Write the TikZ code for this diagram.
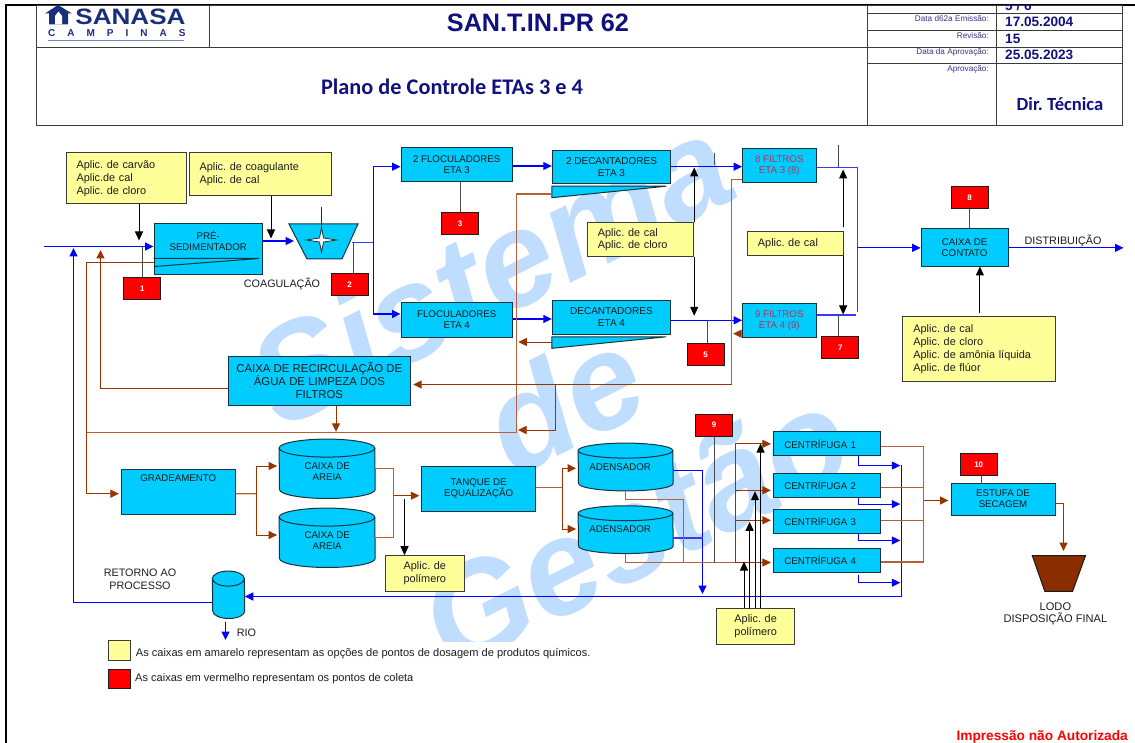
\documentclass[tikz,border=0pt]{standalone}
\usepackage{fontspec}
\setmainfont{Liberation Sans}
\newfontfamily\headfont{Carlito}
\usetikzlibrary{arrows.meta, backgrounds}
\definecolor{PlantInk}{HTML}{1C1C1C}
\definecolor{HeadInk}{HTML}{10107F}
\definecolor{LabelInk}{HTML}{33338C}
\definecolor{LogoInk}{HTML}{1A2F7A}
\definecolor{LogoRule}{HTML}{6C86BC}
\definecolor{GridLine}{HTML}{3C3C3C}
\definecolor{UnitFill}{HTML}{00CCFF}
\definecolor{UnitLine}{HTML}{12343F}
\definecolor{DoseFill}{HTML}{FFFF99}
\definecolor{ProbeFill}{HTML}{FF0000}
\definecolor{WaterLine}{HTML}{0000FF}
\definecolor{WaterThin}{HTML}{3A3AF5}
\definecolor{SludgeLine}{HTML}{993300}
\definecolor{SludgeThin}{HTML}{B5603A}
\definecolor{TapLine}{HTML}{4A4A4A}
\definecolor{FilterInk}{HTML}{B83050}
\definecolor{SealMark}{HTML}{BFDDFF}
\frenchspacing

\begin{document}
\begin{tikzpicture}[
    x=1pt, y=-1pt,
    font=\fontsize{9.7}{11}\selectfont,
    text=PlantInk,
    unit/.style={
      rectangle,
      draw=UnitLine,
      line width=1pt,
      fill=UnitFill,
      align=center,
      inner sep=0pt,
    },
    spin/.style={
      unit,
      minimum width=107.5pt,
      minimum height=23.8pt,
      inner xsep=11pt,
      text width=85.5pt,
      align=left,
    },
    tank/.style={
      rectangle,
      align=center,
      inner sep=0pt,
    },
    tankwall/.style={
      draw=UnitLine,
      line width=1pt,
      fill=UnitFill,
    },
    dose/.style={
      rectangle,
      draw=GridLine,
      line width=1pt,
      fill=DoseFill,
      font=\fontsize{10.9}{12.9}\selectfont,
      inner ysep=0pt,
      inner xsep=10.5pt,
      align=left,
    },
    probe/.style={
      rectangle,
      draw=PlantInk,
      line width=1pt,
      fill=ProbeFill,
      text=white,
      font=\fontsize{8}{9}\selectfont\bfseries,
      minimum width=37pt,
      minimum height=22pt,
      inner sep=0pt,
    },
    tag/.style={
      font=\fontsize{10.8}{12.5}\selectfont,
      align=center,
      inner sep=0pt,
    },
    seal/.style={
      rotate=27,
      text=SealMark,
      font=\fontsize{135}{135}\selectfont\bfseries\itshape,
      inner sep=0pt,
    },
    rule/.style={draw=GridLine, line width=0.9pt},
    water/.style={draw=WaterLine, line width=1.05pt, -{Triangle[length=8.5pt,width=8pt]}},
    waterthin/.style={draw=WaterThin, line width=1.05pt},
    sludge/.style={draw=SludgeLine, line width=1pt, shorten >=2pt, -{Triangle[length=8.5pt,width=8pt]}},
    sludgethin/.style={draw=SludgeThin, line width=1.1pt},
    feed/.style={draw=black, line width=1pt, -{Triangle[length=9pt,width=8pt]}},
    tap/.style={draw=TapLine, line width=1pt},
  ]
  \useasboundingbox (0,0) rectangle (1135,743);

  % seal behind everything
  \begin{scope}[on background layer]
    \clip (0,126) rectangle (1135,641);
    \node[seal] (seal1) at (490,270) {Sistema};
    \node[seal] (seal2) at (563,400) {de};
    \node[seal] (seal3) at (635,528) {Gestão};
  \end{scope}

  % page frame and form header
  \draw[black, line width=2pt] (6.4,743) -- (6.4,5) -- (1135,5);
  \draw[rule] (36.4,5) rectangle (1122.5,125.3);
  \draw[rule] (209,5) -- (209,47);
  \draw[rule] (36.4,47) -- (1122.5,47);
  \draw[rule] (867,5) -- (867,125.3);
  \draw[rule] (996.7,5) -- (996.7,125.3);
  \foreach \yy in {13.3,30.3,63.3} {
    \draw[rule] (867,\yy) -- (1122.5,\yy);
  }

  % logo
  \fill[LogoInk] (45,13.5) -- (58,5) -- (72,13.5) -- (68,13.5) -- (68,24.5) -- (49,24.5) -- (49,13.5) -- cycle;
  \fill[white] (55,24.5) -- (55,16) -- (58.5,11.5) -- (62,16) -- (62,24.5) -- cycle;
  \node[text=LogoInk, font=\fontsize{22.3}{22.3}\selectfont\bfseries, xscale=1.17, transform shape, inner sep=0pt] (logoname) at (130.5,17) {SANASA};
  \node[text=LogoInk, font=\fontsize{10}{10}\selectfont\bfseries\addfontfeature{LetterSpace=120}, anchor=west, inner sep=0pt] (logoplace) at (48,33.5) {CAMPINAS};
  \draw[LogoRule, line width=0.9pt] (48,40.5) -- (184,40.5);

  \node[text=HeadInk, font=\fontsize{25.2}{25}\selectfont\bfseries, inner sep=0pt] (code) at (538,23) {SAN.T.IN.PR 62};
  \node[text=HeadInk, font=\headfont\fontsize{22.3}{22}\selectfont\bfseries, inner sep=0pt] (title) at (452,87) {Plano de Controle ETAs 3 e 4};
  \node[text=HeadInk, font=\headfont\fontsize{18.6}{18}\selectfont\bfseries, inner sep=0pt] (sign) at (1060,104) {Dir. Técnica};
  \begin{scope}[font=\fontsize{8.2}{9}\selectfont, text=LabelInk, inner sep=0pt]
    \node[anchor=east] (lab1) at (989,19) {Data d62a Emissão:};
    \node[anchor=east] (lab2) at (989,35.7) {Revisão:};
    \node[anchor=east] (lab3) at (989,52) {Data da Aprovação:};
    \node[anchor=east] (lab4) at (989,69) {Aprovação:};
  \end{scope}
  \begin{scope}[font=\fontsize{13.6}{14}\selectfont\bfseries, text=HeadInk, inner sep=0pt]
    \begin{scope}
      \clip (1000,5) rectangle (1120,12.8);
      \node[anchor=west] (val0) at (1005,5.5) {5 / 6};
    \end{scope}
    \node[anchor=west] (val1) at (1005,22) {17.05.2004};
    \node[anchor=west] (val2) at (1005,38.5) {15};
    \node[anchor=west] (val3) at (1005,55) {25.05.2023};
  \end{scope}

  % treatment units
  \node[unit, minimum width=108.5pt, minimum height=51pt] (presed) at (208.25,249.5) {PRÉ-\\SEDIMENTADOR\\[7pt]\mbox{}};
  \node[unit, minimum width=111.5pt, minimum height=34pt] (floc3) at (456.75,165) {2 FLOCULADORES\\ETA 3};
  \node[unit, minimum width=111.5pt, minimum height=34pt] (floc4) at (456.75,320) {FLOCULADORES\\ETA 4};
  \node[unit, minimum width=118.4pt, minimum height=33pt, font=\fontsize{10}{12}\selectfont] (dec3) at (611.5,167.2) {2 DECANTADORES\\ETA 3};
  \node[unit, minimum width=118.4pt, minimum height=33.6pt, font=\fontsize{10}{12}\selectfont] (dec4) at (611.5,317.5) {DECANTADORES\\ETA 4};
  \node[unit, minimum width=73.4pt, minimum height=33.7pt, text=FilterInk] (fil8) at (779.3,165.2) {8 FILTROS\\ETA 3 (8)};
  \node[unit, minimum width=73.4pt, minimum height=34pt, text=FilterInk] (fil9) at (779.3,320.3) {9 FILTROS\\ETA 4 (9)};
  \node[unit, minimum width=86.8pt, minimum height=37.7pt] (contact) at (964.6,247.85) {CAIXA DE\\CONTATO};
  \node[unit, minimum width=182.7pt, minimum height=49.3pt, font=\fontsize{11.4}{13}\selectfont] (recirc) at (319.35,380.65) {CAIXA DE RECIRCULAÇÃO DE\\ÁGUA DE LIMPEZA DOS\\FILTROS};
  \node[unit, minimum width=113.6pt, minimum height=44.3pt] (grad) at (178.2,491.85) {GRADEAMENTO\\[17pt]\mbox{}};
  \node[unit, minimum width=113.6pt, minimum height=45pt] (tanque) at (478.6,488.5) {TANQUE DE\\EQUALIZAÇÃO};
  \node[unit, minimum width=104pt, minimum height=32pt] (estufa) at (1003,499) {ESTUFA DE\\SECAGEM};
  \node[spin] (c1) at (827.15,443.85) {CENTRÍFUGA 1};
  \node[spin] (c2) at (827.15,485.7) {CENTRÍFUGA 2};
  \node[spin] (c3) at (827.15,521.15) {CENTRÍFUGA 3};
  \node[spin] (c4) at (827.15,560.3) {CENTRÍFUGA 4};

  \node[tank, minimum width=95.7pt, minimum height=59pt] (sand1) at (327.15,468.8) {\rule{0pt}{11.8pt}CAIXA DE\\AREIA};
  \node[tank, minimum width=95.7pt, minimum height=59pt] (sand2) at (327.15,537.8) {\rule{0pt}{11.8pt}CAIXA DE\\AREIA};
  \node[tank, minimum width=94.7pt, minimum height=47.4pt] (ad1) at (625.65,467) {\hspace*{-11pt}ADENSADOR};
  \node[tank, minimum width=94.7pt, minimum height=47.4pt] (ad2) at (625.65,529.65) {\hspace*{-11pt}ADENSADOR};
  \node[tank, minimum width=32pt, minimum height=47pt] (retorno) at (228.55,594.8) {};

  \begin{scope}[on background layer]
    \foreach \t/\rx/\ry in {sand1/47.85/9, sand2/47.85/9, ad1/47.35/7.5, ad2/47.35/7.5, retorno/16/7.5} {
      \draw[tankwall]
        ([yshift=-\ry pt]\t.north west)
        arc[start angle=180, end angle=0, x radius=\rx pt, y radius=\ry pt]
        -- ([yshift=\ry pt]\t.south east)
        arc[start angle=0, end angle=-180, x radius=\rx pt, y radius=\ry pt]
        -- cycle;
      \draw[tankwall, fill=none]
        ([yshift=-\ry pt]\t.north west)
        arc[start angle=180, end angle=360, x radius=\rx pt, y radius=\ry pt];
    }
  \end{scope}

  % settling wedges, presedimenter plate, mixer and sludge hopper
  \draw[draw=UnitLine, line width=1pt, fill=UnitFill] ([yshift=-2pt]dec3.south west) -- ([xshift=-5pt,yshift=-2pt]dec3.south east) -- ([yshift=-13.5pt]dec3.south west) -- cycle;
  \draw[draw=UnitLine, line width=1pt, fill=UnitFill] ([yshift=-2pt]dec4.south west) -- ([xshift=-5pt,yshift=-2pt]dec4.south east) -- ([yshift=-13.5pt]dec4.south west) -- cycle;
  \draw[draw=UnitLine, line width=1pt] ([yshift=17pt]presed.south west) -- ([xshift=-4pt,yshift=17pt]presed.south east) -- ([xshift=1pt,yshift=9pt]presed.south west);
  \draw[draw=UnitLine, line width=1pt, fill=UnitFill] (289,224) -- (358,224) -- (342,259) -- (307,259) -- cycle;
  \draw[draw=UnitLine, line width=0.8pt] (321.5,207) -- (321.5,240);
  \draw[draw=PlantInk, line width=0.7pt, fill=white] (306.5,240) -- (319.5,238) -- (321.5,228) -- (323.5,238) -- (336.5,240) -- (323.5,242) -- (321.5,252) -- (319.5,242) -- cycle;
  \draw[draw=PlantInk, line width=1pt, fill=SludgeLine!90!black] (1032.3,555.7) -- (1085.5,555.7) -- (1072.6,591.3) -- (1044.8,591.3) -- cycle;

  % dosing points
  \node[dose, text width=99pt, minimum height=51pt] (d1) at (126,178.5) {Aplic. de carvão\\Aplic.de cal\\Aplic. de cloro};
  \node[dose, text width=121pt, minimum height=43pt] (d2) at (260,174.5) {Aplic. de coagulante\\Aplic. de cal};
  \node[dose, text width=85.4pt, minimum height=33.3pt] (d3) at (640.5,239.65) {Aplic. de cal\\Aplic. de cloro};
  \node[dose, text width=75pt, minimum height=24pt] (d4) at (795.45,244) {Aplic. de cal};
  \node[dose, text width=131.9pt, minimum height=64.6pt] (d5) at (979.35,349) {Aplic. de cal\\Aplic. de cloro\\Aplic. de amônia líquida\\Aplic. de flúor};
  \node[dose, align=center, inner xsep=0pt, text width=78.3pt, minimum height=35.6pt] (d6) at (424.85,573.5) {Aplic. de\\polímero};
  \node[dose, align=center, inner xsep=0pt, text width=78.1pt, minimum height=35.6pt] (d7) at (755.65,626.5) {Aplic. de\\polímero};

  % sampling points
  \node[probe] (p1) at (142.35,289) {1};
  \node[probe] (p2) at (349.5,284.5) {2};
  \node[probe] (p3) at (460,223.5) {3};
  \node[probe] (p5) at (705.5,354.85) {5};
  \node[probe] (p7) at (840.35,347.7) {7};
  \node[probe] (p8) at (969.65,197.5) {8};
  \node[probe] (p9) at (714.2,425.15) {9};
  \node[probe] (p10) at (978.7,464.7) {10};

  % free ends and junctions
  \coordinate (inlet) at (44,246.5);
  \coordinate (backin) at (73.5,248);
  \coordinate (backsludge) at (100.5,248);
  \coordinate (leftbus) at (86.5,432.5);
  \coordinate (mixin) at (294,241);
  \coordinate (mixout) at (352,242.5);
  \coordinate (split) at (373.5,242.5);
  \coordinate (busend) at (857.5,312);
  \coordinate (bus) at (857.5,247.85);
  \coordinate (distrib) at (1123.5,247.85);
  \coordinate (drop) at (702.5,594);
  \coordinate (busright) at (901.5,465);
  \coordinate (outfall) at (225.5,640);
  \coordinate (lowbus) at (516.5,432.5);
  \coordinate (d3tail) at (552.3,194);
  \coordinate (d4tail) at (552.3,342);
  \coordinate (filbus) at (731.5,384.5);
  \coordinate (branch) at (555.5,384.5);
  \coordinate (lowtip) at (516,430);
  \coordinate (sandfork) at (256.5,493.7);
  \coordinate (sandjoin) at (393.5,495.7);
  \coordinate (sandtap) at (404.5,499.3);
  \coordinate (adfork) at (562.5,487.5);
  \coordinate (adbend) at (683.5,499.5);
  \coordinate (cakebus) at (735.5,562.5);
  \coordinate (cfork) at (923.5,500.5);
  \coordinate (hoptip) at (1063.5,553);
  \coordinate (tick3) at (714.5,152.7);
  \coordinate (tick8) at (838.5,145.3);

  % clear water
  \draw[water] (inlet) -- (inlet -| presed.west);
  \draw[water] ([yshift=8.5pt]presed.east) -- (mixin);
  \draw[waterthin] (mixout) -- (split);
  \draw[water] (split) |- ([yshift=-1.7pt]floc3.west);
  \draw[water] (split) |- ([yshift=6pt]floc4.west);
  \draw[water] ([yshift=-1pt]floc3.east) -- ([yshift=1.2pt]dec3.west);
  \draw[water] ([yshift=1pt]floc4.east) -- ([yshift=-1.5pt]dec4.west);
  \draw[water] ([yshift=0.5pt]dec3.east) -- ([yshift=-1.5pt]fil8.west);
  \draw[water] ([yshift=-2.8pt]dec4.east) -- (fil9.west);
  \draw[waterthin] ([yshift=-2.5pt]fil8.east) -| (busend);
  \draw[waterthin] ([yshift=5.3pt]fil9.east) -- ++(39.6,0);
  \draw[water] (bus) -- (contact.west);
  \draw[water] (contact.east) -- (distrib);
  \draw[water] ([yshift=-3.3pt]ad1.east) -| (drop);
  \draw[waterthin] ([yshift=-8.35pt]ad2.east) -- ++(29.3,0);
  \draw[water] ([xshift=31.75pt]c1.south) |- ++(41.4,9.3);
  \draw[water] ([xshift=31.75pt]c2.south) |- ++(41.4,6);
  \draw[water] ([xshift=31.75pt]c3.south) |- ++(41.4,6.9);
  \draw[water] ([xshift=31.75pt,yshift=-2.7pt]c4.south) |- ++(41.4,7.3);
  \draw[water] (busright) |- ([yshift=-1.7pt]retorno.east);
  \draw[water] ([yshift=-7.7pt]retorno.west) -| (backin);
  \draw[water] ([xshift=-3.05pt,yshift=-3pt]retorno.south) -- (outfall);

  % sludge and wash water
  \draw[sludgethin] (d3tail) -| (lowbus) -- (leftbus);
  \draw[sludge] ([yshift=-13.5pt]presed.west) -| (leftbus) |- ([yshift=-1.85pt]grad.west);
  \draw[sludge] ([yshift=-7.85pt]recirc.west) -| (backsludge);
  \draw[sludge] ([xshift=16.65pt]recirc.south) -- ++(0,28);
  \draw[sludgethin] ([yshift=-14.1pt]fil8.west) -| (filbus);
  \draw[sludge] (filbus) -- ([yshift=-3.85pt]recirc.east);
  \draw[sludge] ([yshift=-13.4pt]fil9.west) -- ++(-11,0);
  \draw[sludge] (d4tail) -- ++(-36,0);
  \draw[sludge] (branch) |- (lowtip);
  \draw[sludgethin] ([yshift=-1.85pt]grad.east) -- (sandfork);
  \draw[sludge] (sandfork) |- ([yshift=2.8pt]sand1.west);
  \draw[sludge] (sandfork) |- ([yshift=2.8pt]sand2.west);
  \draw[sludgethin] (sand1.east) -| (sandjoin);
  \draw[sludgethin] (sand2.east) -| (sandjoin);
  \draw[sludge] (sandjoin) -- ([yshift=-7.2pt]tanque.west);
  \draw[sludgethin] ([yshift=1pt]tanque.east) -- (adfork);
  \draw[sludge] (adfork) |- ([yshift=-1.3pt]ad1.west);
  \draw[sludge] (adfork) |- ([yshift=0.65pt]ad2.west);
  \draw[sludgethin] (ad1.south) |- (adbend) -- (adbend |- cakebus);
  \draw[sludgethin] (ad2.south) |- (cakebus);
  \draw[sludge] (cakebus) |- (c1.west);
  \draw[sludge] (cakebus) |- ([yshift=-4.6pt]c2.west);
  \draw[sludge] (cakebus) |- ([yshift=0.85pt]c3.west);
  \draw[sludge] (cakebus) -- ([yshift=-2.2pt]c4.west);
  \draw[sludgethin] ([yshift=-2.85pt]c1.east) -| (cfork);
  \draw[sludgethin] ([yshift=-1.6pt]c2.east) -| (cfork);
  \draw[sludgethin] ([yshift=0.85pt]c3.east) -| (cfork);
  \draw[sludgethin] ([yshift=-1.7pt]c4.east) -| (cfork);
  \draw[sludge] (cfork) -- ([yshift=-1.5pt]estufa.west);
  \draw[sludge] ([yshift=-4.5pt]estufa.east) -| (hoptip);

  % sampling taps
  \draw[tap] (p1.north) -- (p1.north |- inlet);
  \draw[tap] ([xshift=3.5pt]p2.north) -- ++(0,-30);
  \draw[tap] (p3.north) -- (p3.north |- floc3.south);
  \draw[tap] ([xshift=1.5pt]p5.north) -- ++(0,-23.7);
  \draw[tap] (tick3) -- ++(0,12.3);
  \draw[tap] (tick8) -- ++(0,21.7);
  \draw[tap] ([xshift=-2pt]p7.north) -- ++(0,-22);
  \draw[tap] (p8.south) -- (p8.south |- contact.north);
  \draw[tap] (p9.south) -- (p9.south |- cakebus);
  \draw[tap] ([xshift=2.3pt]p10.south) -- ++(0,7.3);

  % dosing arrows
  \draw[feed] ([xshift=13pt]d1.south) -- ++(0,36);
  \draw[feed] ([xshift=11pt]d2.south) -- ++(0,42);
  \draw[feed] (d3.north east) -- ++(0,-55);
  \draw[feed] (d3.south east) -- ++(0,59);
  \draw[feed] ([xshift=-0.8pt,yshift=4.3pt]d4.north east) -- ++(0,-57.7);
  \draw[feed] ([xshift=-0.8pt]d4.south east) -- ++(0,58);
  \draw[feed] ([xshift=0.55pt,yshift=3.4pt]d5.north) -- ++(0,-46.3);
  \draw[feed] (sandtap) -- (sandtap |- d6.north);
  \foreach \dx/\tip in {-11.65/46.7, -6.05/86.4, -0.65/117, 4.95/164.7} {
    \draw[feed] ([xshift=\dx pt]d7.north) -- ++(0,-\tip);
  }

  % loose labels
  \node[tag] (coag) at (282,284) {COAGULAÇÃO};
  \node[tag] (dist) at (1063,240.7) {DISTRIBUIÇÃO};
  \node[tag] (back) at (140,579.5) {RETORNO AO\\PROCESSO};
  \node[tag] (rio) at (246.5,632.3) {RIO};
  \node[tag, font=\fontsize{11.1}{12.7}\selectfont] (lodo) at (1055.4,613.8) {LODO\\DISPOSIÇÃO FINAL};

  % legend
  \node[dose, inner sep=0pt, minimum width=22.4pt, minimum height=19.3pt] (keyd) at (119.2,650.35) {};
  \node[probe, minimum width=22.4pt, minimum height=19.7pt] (keyp) at (119.2,678.85) {};
  \node[tag, anchor=west, font=\fontsize{11.05}{12}\selectfont] (keydt) at (135.7,653.3) {As caixas em amarelo representam as opções de pontos de dosagem de produtos químicos.};
  \node[tag, anchor=west, font=\fontsize{11.05}{12}\selectfont] (keypt) at (135,679) {As caixas em vermelho representam os pontos de coleta};
  \node[tag, anchor=east, text=red, font=\fontsize{13.7}{14}\selectfont\bfseries] (stamp) at (1128,737) {Impressão não Autorizada};
\end{tikzpicture}
\end{document}
